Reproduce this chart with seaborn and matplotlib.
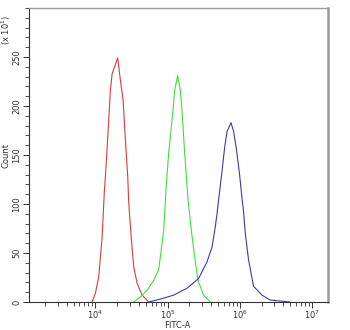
import numpy as np
import pandas as pd
import matplotlib
matplotlib.use("Agg")
import matplotlib.pyplot as plt
from matplotlib.ticker import LogLocator, MultipleLocator, FixedLocator, LogFormatterMathtext, NullFormatter
import seaborn as sns

# log10(FITC-A) positions and counts (x10^1)
red_log = [3.954, 4.000, 4.046, 4.093, 4.124, 4.138, 4.176, 4.207, 4.231, 4.308,
           4.346, 4.383, 4.415, 4.447, 4.461, 4.494, 4.530, 4.577, 4.646, 4.737]
red_cnt = [0, 9, 26, 67, 114, 128, 175, 216, 233, 249,
           226, 206, 165, 128, 101, 67, 36, 19, 7, 0]

green_log = [4.530, 4.622, 4.715, 4.806, 4.876, 4.945, 4.978, 5.014, 5.061, 5.097,
             5.138, 5.176, 5.207, 5.235, 5.268, 5.282, 5.328, 5.373, 5.420, 5.498, 5.591]
green_cnt = [0, 5, 12, 22, 33, 73, 116, 152, 186, 216,
             231, 216, 186, 152, 118, 104, 73, 46, 22, 7, 0]

blue_log = [4.737, 4.899, 5.083, 5.268, 5.429, 5.545, 5.614, 5.660, 5.683, 5.705,
            5.752, 5.788, 5.822, 5.877, 5.913, 5.950, 5.996, 6.029, 6.051, 6.075,
            6.120, 6.189, 6.306, 6.420, 6.697]
blue_cnt = [0, 3, 7, 14, 24, 41, 56, 77, 90, 104,
            133, 157, 174, 183, 174, 157, 130, 106, 92, 70,
            43, 16, 7, 2, 0]

y_major = [0, 50, 100, 150, 200, 250]
x_major = [1e4, 1e5, 1e6, 1e7]

series_names = ["red", "green", "blue"]
series_colors = {"red": "#e03a3a", "green": "#3ee03e", "blue": "#3a3ab8"}

frames = []
for name, lx, cnt in [("red", red_log, red_cnt), ("green", green_log, green_cnt),
                      ("blue", blue_log, blue_cnt)]:
    frames.append(pd.DataFrame({"FITC-A": 10 ** np.array(lx), "Count": cnt,
                                "series": name}))
df = pd.concat(frames, ignore_index=True)

sns.set_style("ticks")
plt.rcParams['font.family'] = ['DejaVu Sans']

fig = plt.figure(figsize=(3.5, 3.3), dpi=100)
ax = fig.add_axes([29 / 350, 1 - 302 / 330, (328 - 29) / 350, (302 - 8) / 330])

sns.lineplot(data=df, x="FITC-A", y="Count", hue="series", hue_order=series_names,
             palette=series_colors, estimator=None, sort=False, units="series",
             linewidth=0.8, legend=False, ax=ax)

ax.set_xscale("log")
ax.set_xlim(10 ** 3.08, 10 ** 7.22)
ax.set_ylim(0, 300)

ax.xaxis.set_major_locator(FixedLocator(x_major))
ax.xaxis.set_major_formatter(LogFormatterMathtext())
ax.xaxis.set_minor_locator(LogLocator(base=10, subs=np.arange(2, 10), numticks=20))
ax.xaxis.set_minor_formatter(NullFormatter())

ax.yaxis.set_major_locator(FixedLocator(y_major))
ax.yaxis.set_minor_locator(MultipleLocator(10))

ax.tick_params(axis="both", which="major", direction="out", length=4, width=0.7,
               labelsize=6, colors="#333333", pad=1.5)
ax.tick_params(axis="x", which="major", pad=0.5)
ax.tick_params(axis="both", which="minor", direction="out", length=3, width=0.6,
               colors="#333333")
ax.tick_params(axis="y", which="major", labelrotation=90)
for lab in ax.get_yticklabels():
    lab.set_va("center")

for side in ["left", "bottom"]:
    ax.spines[side].set_color("#333333")
    ax.spines[side].set_linewidth(0.8)
ax.spines["top"].set_color("#9a9a9a")
ax.spines["top"].set_linewidth(1.0)
ax.spines["right"].set_color("#9a9a9a")
ax.spines["right"].set_linewidth(1.8)

ax.set_xlabel("")
ax.set_ylabel("")
fig.text(177 / 350, 1 - 325.5 / 330, "FITC-A", ha="center", va="center",
         fontsize=6, color="#333333")
fig.text(6 / 350, 1 - 155 / 330, "Count", ha="center", va="center",
         rotation=90, fontsize=6, color="#333333")
fig.text(6 / 350, 1 - 30 / 330, r"(x 10$^1$)", ha="center", va="center",
         rotation=90, fontsize=6, color="#333333")

fig.savefig("out.png", dpi=100, facecolor="white")
